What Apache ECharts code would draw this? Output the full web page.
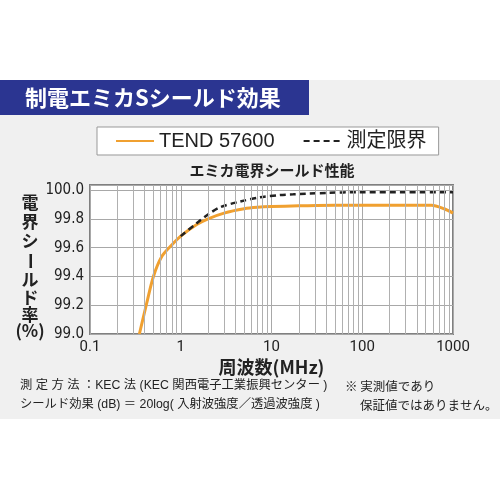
<!DOCTYPE html>
<html><head><meta charset="utf-8">
<script src="https://cdn.jsdelivr.net/npm/echarts@6/dist/echarts.min.js"></script>
<style>html,body{margin:0;padding:0;background:#fff}#c{width:500px;height:500px}</style>
</head><body><div id="c"></div>
<script>
// ---- data ----
const seriesNames = ['TEND 57600', '測定限界'];
const tendFreq = [0.35, 0.42, 0.5, 0.62, 0.8, 1.0, 1.5, 2, 3, 5, 7, 10, 20, 50, 100, 300, 580, 800, 1000];
const tendVal  = [99.00, 99.21, 99.40, 99.54, 99.62, 99.68, 99.76, 99.80, 99.84, 99.87, 99.88, 99.885, 99.89, 99.895, 99.895, 99.895, 99.895, 99.87, 99.84];
const limitFreq = [1.0, 1.5, 2, 2.7, 4.5, 7.5, 12.4, 17.4, 40, 94, 300, 1000];
const limitVal  = [99.68, 99.77, 99.83, 99.88, 99.92, 99.95, 99.965, 99.97, 99.98, 99.985, 99.985, 99.985];
const xTickLabels = ['0.1', '1', '10', '100', '1000'];
const yTickLabels = ['99.0', '99.2', '99.4', '99.6', '99.8', '100.0'];
const decades = [0.1, 1, 10, 100];
const minorMultipliers = [2, 3, 4, 5, 6, 7, 8, 9];
const headerTitle = '制電エミカSシールド効果';
const chartTitle = 'エミカ電界シールド性能';
const xAxisName = '周波数(MHz)';
const yAxisNameChars = ['電', '界', 'シ', 'ー', 'ル', 'ド', '率', '(%)'];
const noteLeft1 = '測 定 方 法 ：KEC 法 (KEC 関西電子工業振興センター )';
const noteLeft2 = 'シールド効果 (dB) ＝ 20log( 入射波強度／透過波強度 )';
const noteRight1 = '※ 実測値であり';
const noteRight2 = '保証値ではありません。';

const minorLines = [];
decades.forEach(d => minorMultipliers.forEach(m => minorLines.push({ xAxis: +(d * m).toPrecision(3) })));

const CJK = '"Noto Sans CJK JP", "Noto Sans", sans-serif';
const LAT = '"Liberation Sans", "Noto Sans CJK JP", sans-serif';
const chart = echarts.init(document.getElementById('c'));

const yNameYs = [203, 222, 241, 261, 280, 298, 315, 331];
const yNameGraphics = yAxisNameChars.map((ch, i) => ({
  type: 'text', x: 30, y: yNameYs[i], rotation: ch === 'ー' ? -Math.PI / 2 : 0,
  style: { text: ch, fill: '#222', font: 'bold 17px ' + CJK, align: 'center', verticalAlign: 'middle' }
}));

chart.setOption({
  animation: false,
  backgroundColor: '#fff',
  graphic: [
    { type: 'rect', z: -10, shape: { x: 0, y: 80, width: 500, height: 339 }, style: { fill: '#f0f0f0' } },
    { type: 'rect', z: -9, shape: { x: 0, y: 80, width: 309, height: 35 }, style: { fill: '#2b3591' } },
    { type: 'text', x: 25, y: 98, style: { text: headerTitle, fill: '#fff', font: 'bold 22px ' + CJK, verticalAlign: 'middle' } },
    { type: 'text', x: 272, y: 170, style: { text: chartTitle, fill: '#222', font: 'bold 15px ' + CJK, align: 'center', verticalAlign: 'middle' } },
    { type: 'text', x: 20, y: 386, style: { text: noteLeft1, fill: '#222', font: '12.3px ' + LAT, verticalAlign: 'middle' } },
    { type: 'text', x: 20, y: 405, style: { text: noteLeft2, fill: '#222', font: '12.3px ' + LAT, verticalAlign: 'middle' } },
    { type: 'text', x: 345, y: 386, style: { text: noteRight1, fill: '#222', font: '12.5px ' + CJK, verticalAlign: 'middle' } },
    { type: 'text', x: 360, y: 405, style: { text: noteRight2, fill: '#222', font: '12.5px ' + CJK, verticalAlign: 'middle' } }
  ].concat(yNameGraphics),
  legend: {
    data: seriesNames, left: 97, top: 127, orient: 'horizontal',
    backgroundColor: '#fff', borderColor: '#999', borderWidth: 1,
    padding: [4, 12, 4, 18], itemGap: 28, itemWidth: 38, itemHeight: 14,
    itemStyle: { opacity: 0 },
    textStyle: { fontSize: 20, color: '#222', fontFamily: LAT }
  },
  grid: { left: 90, right: 47, top: 185, bottom: 166, show: true, backgroundColor: '#fff', borderColor: '#808080', borderWidth: 2 },
  xAxis: {
    type: 'log', logBase: 10, min: 0.1, max: 1000,
    name: xAxisName, nameLocation: 'middle', nameGap: 24,
    nameTextStyle: { fontSize: 18, fontWeight: 'bold', color: '#222', fontFamily: CJK },
    axisLine: { show: false }, axisTick: { show: false },
    axisLabel: { fontSize: 15, color: '#222', fontFamily: 'Roboto, sans-serif', margin: 6,
      formatter: v => { const l = Math.round(Math.log10(v)) + 1; return xTickLabels[l] || ''; } },
    splitLine: { show: true, lineStyle: { color: '#a8a8a8', width: 1 } }
  },
  yAxis: {
    type: 'value', min: 99.0, max: 100.035, interval: 0.2,
    axisLine: { show: false }, axisTick: { show: false },
    axisLabel: { fontSize: 15, color: '#222', fontFamily: '"Liberation Sans Narrow", "DejaVu Sans Condensed", sans-serif', margin: 6,
      formatter: v => { const i = Math.round((v - 99) / 0.2); return (v <= 100.0001 && yTickLabels[i]) ? yTickLabels[i] : ''; } },
    splitLine: { show: true, lineStyle: { color: '#a8a8a8', width: 1 } }
  },
  series: [
    { name: 'minorGrid', type: 'line', data: [], z: 1, silent: true,
      markLine: { silent: true, symbol: ['none', 'none'], label: { show: false }, animation: false,
        lineStyle: { color: '#b0b0b0', width: 1, type: 'solid' }, data: minorLines } },
    { name: seriesNames[0], type: 'line', z: 3, symbol: 'none', showSymbol: false, smooth: 0.3,
      data: tendFreq.map((f, i) => [f, tendVal[i]]),
      lineStyle: { color: '#f0a030', width: 3 }, itemStyle: { color: '#f0a030' } },
    { name: seriesNames[1], type: 'line', z: 4, symbol: 'none', showSymbol: false, smooth: 0.3,
      data: limitFreq.map((f, i) => [f, limitVal[i]]),
      lineStyle: { color: '#222', width: 2.5, type: [6, 4] }, itemStyle: { color: '#222' } }
  ]
});
</script></body></html>
